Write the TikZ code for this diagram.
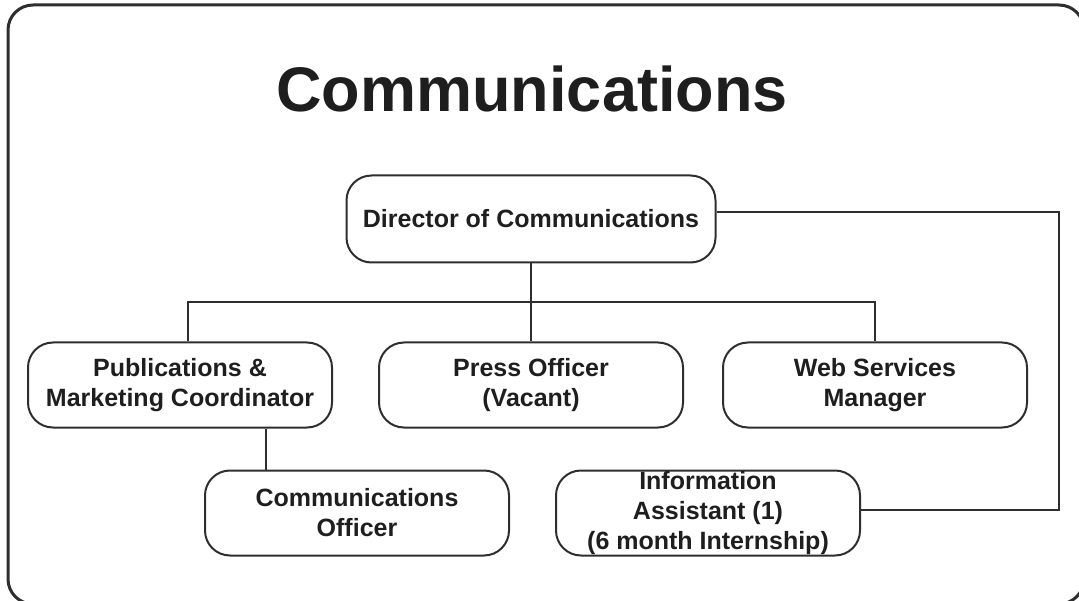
\documentclass[tikz,border=0pt]{standalone}
\usepackage{fontspec}
\setmainfont{Liberation Sans}
\usetikzlibrary{positioning,calc}
\definecolor{ink}{HTML}{1E1E1E}
\definecolor{rule}{HTML}{2E2E2E}

\begin{document}
\begin{tikzpicture}[x=1pt,y=-1pt,
    role/.style={draw=rule, line width=2pt, rounded corners=25pt, text=ink,
      minimum width=304pt, minimum height=85pt, inner sep=0pt, align=center,
      font=\fontsize{25}{30}\selectfont\bfseries},
    link/.style={draw=rule, line width=2pt}]
    \pgfmathsetmacro{\rowa}{385}
    \pgfmathsetmacro{\rowb}{513}

    \useasboundingbox (0,0) rectangle (1079,601);
    % outer frame
    \draw[rule, line width=3pt, rounded corners=25pt] (8,5) rectangle (1084,604);

    \node[text=ink, font=\fontsize{63}{70}\selectfont\bfseries] (title) at (532,89) {Communications};

    \node[role, minimum width=369pt, minimum height=87pt] (dir) at (531,219) {Director of Communications};
    \node[role] (pub) at (180,\rowa) {Publications \&\\Marketing Coordinator};
    \node[role] (press) at (531,\rowa) {Press Officer\\(Vacant)};
    \node[role] (web) at (875,\rowa) {Web Services\\Manager};
    \node[role] (off) at (357,\rowb) {Communications\\Officer};
    \node[role] (info) at (708,\rowb) {Information\\Assistant (1)\\(6 month Internship)};

    % tree
    \draw[link] (dir.south) -- ++(0,39) coordinate (bus);
    \draw[link] ([xshift=8pt]pub.north) |- (bus) -| (web.north);
    \draw[link] (bus) -- (press.north);
    \draw[link] ([xshift=86pt]pub.south) -- ([xshift=86pt]pub.south |- off.north);
    % side line to the intern
    \draw[link] ([yshift=7pt]dir.east) -- ++(342,0) coordinate (turn) |- ([yshift=3pt]info.east);
\end{tikzpicture}
\end{document}
